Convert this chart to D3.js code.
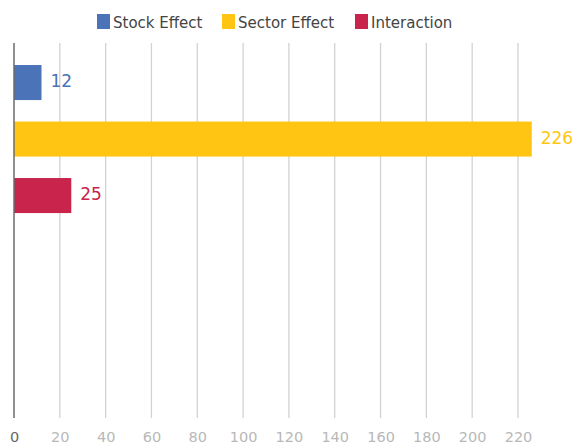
<!DOCTYPE html>
<html>
<head>
<meta charset="utf-8">
<script src="https://cdn.jsdelivr.net/npm/d3@7"></script>
<style>
  html, body { margin: 0; padding: 0; background: #fff; }
  svg { display: block; font-family: "DejaVu Sans", sans-serif; }
</style>
</head>
<body>
<svg id="chart" width="572" height="447"></svg>
<script>
// Attribution breakdown: one horizontal bar per effect
const series = ["Stock Effect", "Sector Effect", "Interaction"];
const values = [12, 226, 25];
const colors = ["#4a73b8", "#ffc512", "#c8244c"];
const xTicks = [0, 20, 40, 60, 80, 100, 120, 140, 160, 180, 200, 220];

const svg = d3.select("#chart");
const plot = { top: 43, bottom: 418 };

const x = d3.scaleLinear().domain([0, 220]).range([14, 518]);
const y = d3.scaleBand().domain(series).range([54.3, 223.8])
  .paddingInner(0.38).paddingOuter(0.19);

// vertical grid lines
svg.append("g").selectAll("line")
  .data(xTicks.slice(1))
  .join("line")
  .attr("x1", d => x(d)).attr("x2", d => x(d))
  .attr("y1", plot.top).attr("y2", plot.bottom)
  .attr("stroke", "#d2d2d2").attr("stroke-width", 1.3);

// bars
svg.append("g").selectAll("rect")
  .data(series)
  .join("rect")
  .attr("x", x(0))
  .attr("y", d => y(d))
  .attr("width", (d, i) => x(values[i]) - x(0))
  .attr("height", y.bandwidth())
  .attr("fill", (d, i) => colors[i]);

// value labels
svg.append("g").selectAll("text")
  .data(series)
  .join("text")
  .attr("x", (d, i) => x(values[i]) + 9)
  .attr("y", d => y(d) + y.bandwidth() / 2 - 1.5)
  .attr("dy", "0.36em")
  .attr("font-size", 17)
  .attr("fill", (d, i) => colors[i])
  .text((d, i) => values[i]);

// zero baseline
svg.append("line")
  .attr("x1", x(0)).attr("x2", x(0))
  .attr("y1", plot.top).attr("y2", plot.bottom)
  .attr("stroke", "#6b6b6b").attr("stroke-width", 1.5);

// x axis labels
const axis = d3.axisBottom(x).tickValues(xTicks).tickSize(0).tickPadding(0);
const ax = svg.append("g").attr("transform", `translate(0,${plot.bottom + 12})`).call(axis);
ax.select(".domain").remove();
ax.selectAll("text")
  .attr("font-family", "DejaVu Sans, sans-serif")
  .attr("font-size", 14.5)
  .attr("dy", "0.85em")
  .attr("fill", d => d === 0 ? "#666" : "#b8b8b8");

// legend
const legendX = [97, 222, 355];
const lg = svg.append("g").selectAll("g")
  .data(series)
  .join("g")
  .attr("transform", (d, i) => `translate(${legendX[i]},14)`);
lg.append("rect").attr("width", 13).attr("height", 15)
  .attr("fill", (d, i) => colors[i]);
lg.append("text")
  .attr("x", 16).attr("y", 8.5).attr("dy", "0.36em")
  .attr("font-size", 15).attr("fill", "#444")
  .text(d => d);
</script>
</body>
</html>
